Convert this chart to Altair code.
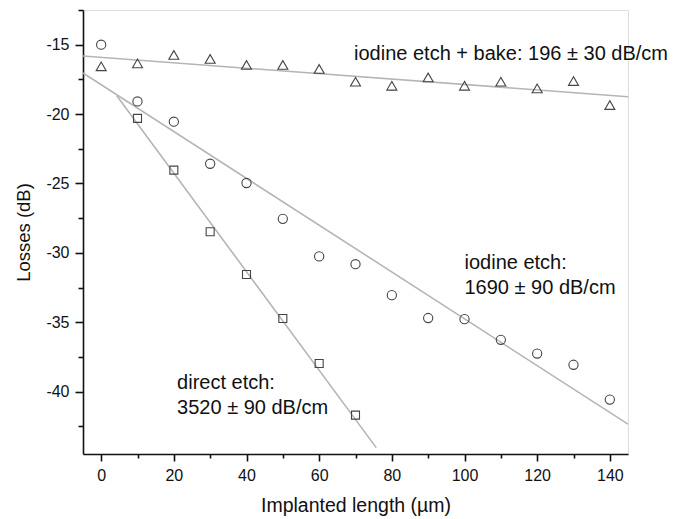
import altair as alt
import pandas as pd

# ---- data ----
x_vals = [0, 10, 20, 30, 40, 50, 60, 70, 80, 90, 100, 110, 120, 130, 140]
bake_vals = [-16.56, -16.35, -15.74, -16.03, -16.46, -16.46, -16.75, -17.67,
             -17.96, -17.36, -17.96, -17.67, -18.15, -17.62, -19.35]
iodine_vals = [-15.0, -19.09, -20.55, -23.58, -24.97, -27.55, -30.26, -30.82,
               -33.05, -34.70, -34.78, -36.27, -37.26, -38.07, -40.58]
direct_x = [10, 20, 30, 40, 50, 60, 70]
direct_vals = [-20.31, -24.04, -28.48, -31.56, -34.73, -37.98, -41.70]

fit_bake_x = [-5, 145]
fit_bake_y = [-15.82, -18.75]
fit_iodine_x = [-5, 145]
fit_iodine_y = [-17.04, -42.35]
fit_direct_x = [4.3, 75.7]
fit_direct_y = [-18.68, -44.04]

label_text = ["iodine etch + bake: 196 ± 30 dB/cm", "iodine etch:", "1690 ± 90 dB/cm",
              "direct etch:", "3520 ± 90 dB/cm"]
label_x = [69.6, 100.0, 100.0, 20.9, 20.9]
label_y = [-15.65, -30.7, -32.5, -39.35, -41.15]

x_ticks = list(range(0, 141, 10))
y_ticks = [-42.5, -40, -37.5, -35, -32.5, -30, -27.5, -25, -22.5, -20, -17.5, -15, -12.5]

# ---- tables ----
bake_df = pd.DataFrame({"x": x_vals, "y": bake_vals})
iodine_df = pd.DataFrame({"x": x_vals, "y": iodine_vals})
direct_df = pd.DataFrame({"x": direct_x, "y": direct_vals})
fits_df = pd.concat([
    pd.DataFrame({"x": fit_bake_x, "y": fit_bake_y, "fit": "bake"}),
    pd.DataFrame({"x": fit_iodine_x, "y": fit_iodine_y, "fit": "iodine"}),
    pd.DataFrame({"x": fit_direct_x, "y": fit_direct_y, "fit": "direct"}),
])
text_df = pd.DataFrame({"x": label_x, "y": label_y, "t": label_text})

FONT = "Liberation Sans"
xscale = alt.Scale(domain=[-5, 145], nice=False, zero=False)
yscale = alt.Scale(domain=[-44.5, -12.5], nice=False, zero=False)

x_axis = alt.Axis(
    values=x_ticks,
    labelExpr="datum.value % 20 === 0 ? '' + datum.value : ''",
    tickSize=alt.condition("datum.value % 20 === 0", alt.value(7), alt.value(4)),
    grid=False, domainColor="#111", tickColor="#111", domainWidth=1.6, tickWidth=1.6,
    labelFont=FONT, labelFontSize=16, labelColor="#111", labelPadding=6,
    title="Implanted length (µm)", titleFont=FONT, titleFontSize=19.5,
    titleFontWeight="normal", titleColor="#111", titlePadding=13,
)
y_axis = alt.Axis(
    values=y_ticks,
    labelExpr="datum.value % 5 === 0 ? '' + datum.value : ''",
    tickSize=alt.condition("datum.value % 5 === 0", alt.value(8), alt.value(5)),
    grid=False, domainColor="#111", tickColor="#111", domainWidth=1.6, tickWidth=1.6,
    labelFont=FONT, labelFontSize=16, labelColor="#111", labelPadding=6,
    title="Losses (dB)", titleFont=FONT, titleFontSize=18.5,
    titleFontWeight="normal", titleColor="#111", titlePadding=12,
)

X = alt.X("x:Q", scale=xscale, axis=x_axis)
Y = alt.Y("y:Q", scale=yscale, axis=y_axis)

lines = alt.Chart(fits_df).mark_line(color="#b5b5b5", strokeWidth=1.6, clip=True).encode(
    x=X, y=Y, detail="fit:N",
)

def pts(df, shape, size):
    return alt.Chart(df).mark_point(
        shape=shape, filled=False, size=size, color="#444", strokeWidth=1.1, opacity=1
    ).encode(x=X, y=Y)

tri = pts(bake_df, "triangle-up", 100)
circ = pts(iodine_df, "circle", 85)
sq = pts(direct_df, "square", 64)

texts = alt.Chart(text_df).mark_text(
    align="left", baseline="middle", font=FONT, fontSize=20, color="#111"
).encode(x=X, y=Y, text="t:N")

chart = alt.layer(lines, tri, circ, sq, texts).properties(
    width=545, height=444,
    autosize=alt.AutoSizeParams(type="none"),
    padding={"left": 83, "top": 10, "right": 58, "bottom": 65},
).configure_view(strokeWidth=0).configure(background="white")

chart.save("out.html", embed_options={"renderer": "svg", "actions": False})
